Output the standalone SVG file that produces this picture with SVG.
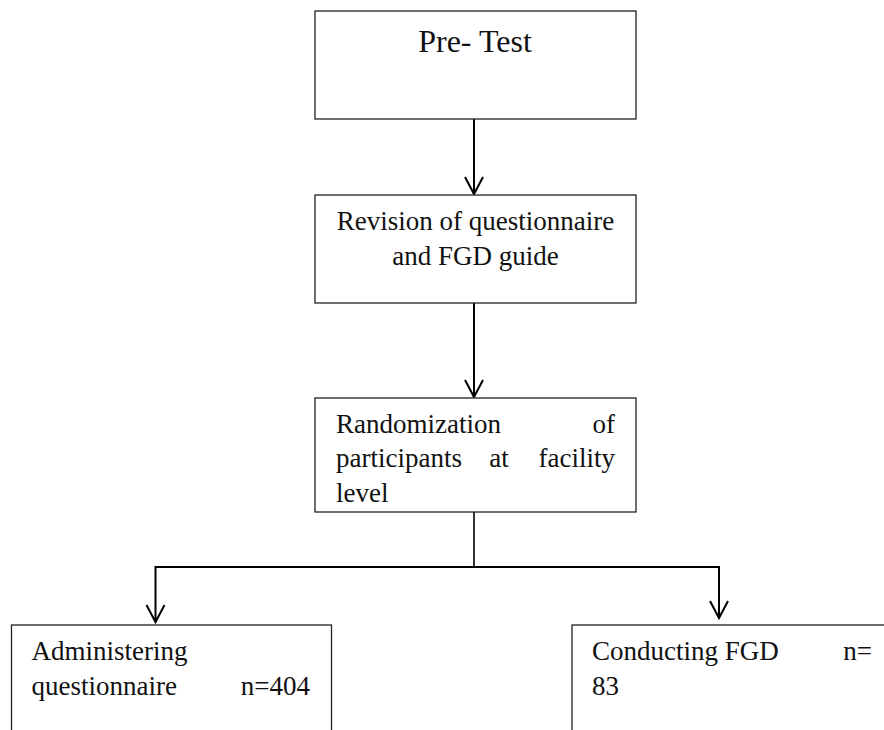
<svg xmlns="http://www.w3.org/2000/svg" width="884" height="730" viewBox="0 0 884 730">
<style>
.box{fill:#fff;stroke:#222;stroke-width:1.3}
.t{font-family:"Liberation Serif","Times New Roman",serif;font-size:27px;fill:#111}
.big{font-size:32px}
.c{fill:none;stroke:#000;stroke-width:2}
.l{fill:none;stroke:#000;stroke-width:1.6}
</style>
<defs>
<marker id="v" markerUnits="userSpaceOnUse" markerWidth="22" markerHeight="22" viewBox="0 0 22 22" refX="19" refY="11" orient="auto">
<path d="M2,2 L19,11 L2,20" fill="none" stroke="#000" stroke-width="2"/>
</marker>
</defs>
<rect width="884" height="730" fill="#fff"/>
<g id="connectors">
<path class="c" d="M474,119 V194" marker-end="url(#v)"/>
<path class="c" d="M474,303 V397" marker-end="url(#v)"/>
<path class="l" d="M474,512 V567"/>
<path class="c" d="M474,567 H155.5 V622" marker-end="url(#v)"/>
<path class="c" d="M474,567 H719 V618" marker-end="url(#v)"/>
</g>
<g id="pretest">
<rect class="box" x="315" y="11" width="321" height="108"/>
<text class="t big" x="475" y="52" text-anchor="middle">Pre- Test</text>
</g>
<g id="revision">
<rect class="box" x="315" y="195" width="321" height="108"/>
<text class="t" x="475.5" y="230" text-anchor="middle">Revision of questionnaire</text>
<text class="t" x="475.5" y="265" text-anchor="middle">and FGD guide</text>
</g>
<g id="randomization">
<rect class="box" x="315" y="398" width="321" height="114"/>
<text class="t" x="336" y="433">Randomization</text>
<text class="t" x="615" y="433" text-anchor="end">of</text>
<text class="t" x="336" y="467">participants</text>
<text class="t" x="499" y="467" text-anchor="middle">at</text>
<text class="t" x="615" y="467" text-anchor="end">facility</text>
<text class="t" x="336" y="502">level</text>
</g>
<g id="administering">
<rect class="box" x="11.5" y="625" width="320" height="200"/>
<text class="t" x="31.5" y="660">Administering</text>
<text class="t" x="31.5" y="695">questionnaire</text>
<text class="t" x="310" y="695" text-anchor="end">n=404</text>
</g>
<g id="conducting">
<rect class="box" x="572" y="625" width="400" height="200"/>
<text class="t" x="592" y="660">Conducting FGD</text>
<text class="t" x="872" y="660" text-anchor="end">n=</text>
<text class="t" x="592" y="695">83</text>
</g>
</svg>
